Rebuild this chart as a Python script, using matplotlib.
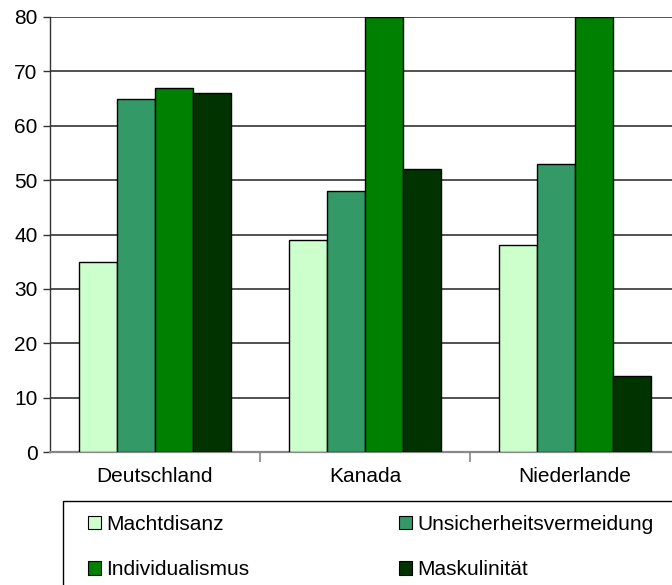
import matplotlib
matplotlib.use("Agg")
import matplotlib.pyplot as plt
from matplotlib.patches import Rectangle, Patch
import numpy as np

categories = ["Deutschland", "Kanada", "Niederlande"]
series = ["Machtdisanz", "Unsicherheitsvermeidung", "Individualismus", "Maskulinität"]
machtdisanz = [35, 39, 38]
unsicherheit = [65, 48, 53]
individualismus = [67, 80, 80]
maskulinitaet = [66, 52, 14]
values = [machtdisanz, unsicherheit, individualismus, maskulinitaet]
colors = ["#CCFFCC", "#339966", "#008000", "#003300"]
yticks = [0, 10, 20, 30, 40, 50, 60, 70, 80]

plt.rcParams["font.family"] = ["Liberation Sans", "DejaVu Sans"]
W, H = 672, 585
FS = 15
fig = plt.figure(figsize=(W / 100, H / 100), dpi=100)
ax = fig.add_axes([50 / W, 1 - 452 / H, 630 / W, (452 - 17) / H])

x = np.arange(len(categories))
bw = 0.182
for i, (vals, c) in enumerate(zip(values, colors)):
    offs = (i - 1.5) * bw
    ax.bar(x + offs, vals, width=bw, color=c, edgecolor="black", linewidth=1.0,
           zorder=3, label=series[i])

ax.set_xlim(-0.5, 2.5)
ax.set_ylim(0, 80)
ax.set_yticks(yticks)
ax.set_yticklabels([str(v) for v in yticks], fontsize=FS)
ax.yaxis.grid(True, color="#333333", linewidth=1.2, zorder=1)
ax.set_axisbelow(True)
ax.set_xticks(x)
ax.set_xticklabels(categories, fontsize=FS)
ax.tick_params(axis="x", length=0, pad=10.5)
ax.set_xticks([0.5, 1.5], minor=True)
ax.tick_params(axis="x", which="minor", length=7, color="#888888", width=1.2, direction="out")
ax.tick_params(axis="y", length=5, color="#333333", width=1.0, pad=4)
for s in ["top", "right"]:
    ax.spines[s].set_visible(False)
ax.spines["left"].set_color("#333333")
ax.spines["left"].set_linewidth(1.0)
ax.spines["bottom"].set_color("#888888")
ax.spines["bottom"].set_linewidth(1.6)

# legend box
fig.patches.append(Rectangle((63 / W, -0.05), 0.95, (H - 501) / H + 0.05,
                             transform=fig.transFigure, facecolor="white",
                             edgecolor="black", linewidth=1.0))
order = [0, 2, 1, 3]
handles = [Patch(facecolor=colors[k], edgecolor="black", linewidth=0.8) for k in order]
labels = [series[k] for k in order]
leg = fig.legend(handles, labels, loc="upper left",
                 bbox_to_anchor=(88 / W, 1 - 515 / H), ncol=2, frameon=False,
                 fontsize=FS, handlelength=0.63, handleheight=0.63,
                 handletextpad=0.24, columnspacing=7.2, labelspacing=1.25,
                 borderaxespad=0, borderpad=0)

fig.savefig("out.png", dpi=100)
